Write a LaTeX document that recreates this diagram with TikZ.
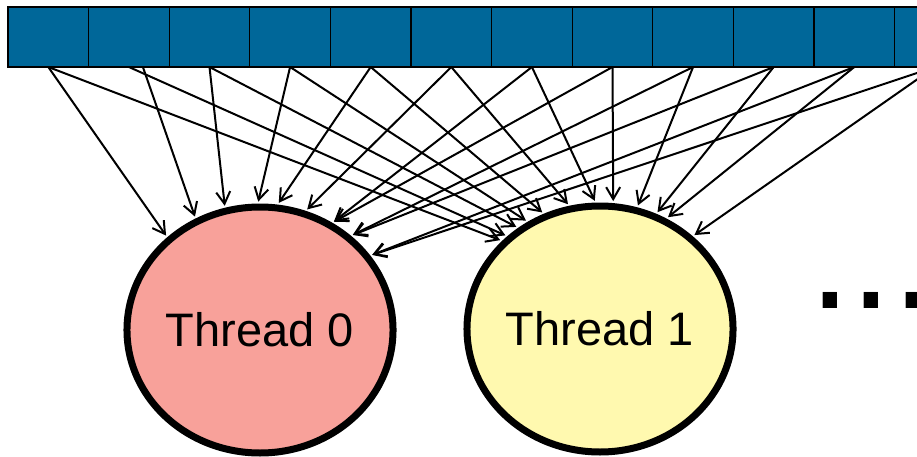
\documentclass[tikz,border=0pt]{standalone}
\usepackage{fontspec}
\setmainfont{Liberation Sans}
\usetikzlibrary{shapes.geometric,arrows.meta,calc}
\definecolor{cellblue}{RGB}{0,103,153}
\definecolor{pinkfill}{RGB}{248,161,154}
\definecolor{yellowfill}{RGB}{255,249,175}
\begin{document}
\begin{tikzpicture}[x=1pt,y=-1pt,
  cellbox/.style={draw=black,line width=1.3pt,fill=cellblue,minimum width=80.6pt,minimum height=60pt,inner sep=0pt,outer sep=0pt},
  thread/.style={ellipse,draw=black,line width=7pt,minimum width=259pt,minimum height=246pt,inner sep=0pt,font=\fontsize{47}{50}\selectfont},
  link/.style={line width=2pt,-{Straight Barb[length=12pt,width=14pt]},shorten >=2pt}]
\clip (0,0) rectangle (917,457);
\fill[white] (0,0) rectangle (917,457);
\foreach \i in {0,...,11} \node[cellbox] (c\i) at (48.3+80.6*\i,37) {};
\node[thread,fill=pinkfill] (t0) at (260,330) {Thread 0};
\node[thread,fill=yellowfill] (t1) at (600,329) {Thread 1};
\node[font=\fontsize{150}{160}\selectfont,anchor=base west,inner sep=0pt] (dots) at (809,308) {...};
% links to Thread 0
\draw[link] (c0.south) -- (t0.135.6);
\draw[link] ($(c1.south)+(14,0)$) -- (t0.120.3);
\foreach \i/\a in {2/106.5,3/91.3,4/82.1,5/69.6,6/56.9,7/56.9,8/46.8,9/46.8,10/34.3,11/34.3}
  \draw[link] (c\i.south) -- (t0.\a);
% links to Thread 1
\foreach \i/\a in {0/138.3,1/135.9,2/129.4,3/124.7,4/116.2,5/104.7,6/92.2,7/84.8,8/73.0,9/64.0,10/59.6,11/45}
  \draw[link] (c\i.south) -- (t1.\a);
\end{tikzpicture}
\end{document}
